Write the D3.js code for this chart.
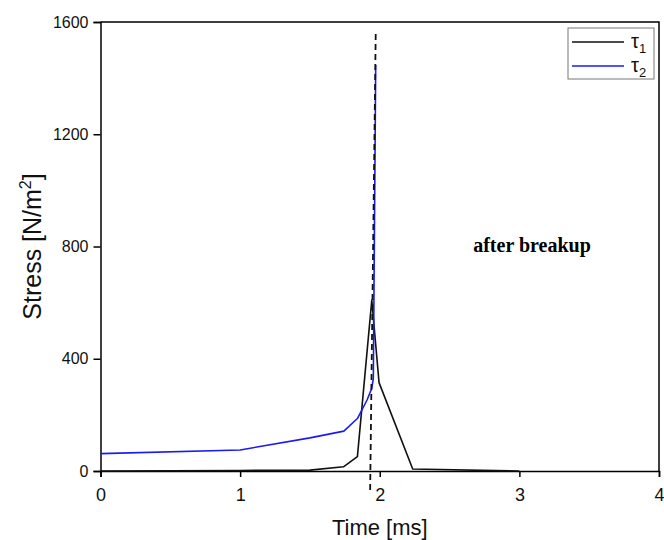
<!DOCTYPE html>
<html>
<head>
<meta charset="utf-8">
<script src="https://cdn.jsdelivr.net/npm/d3@7"></script>
<style>
  body { margin: 0; background: #fff; }
  text { font-family: "Liberation Sans", Arial, sans-serif; }
</style>
</head>
<body>
<div class="chart"></div>
<script>
// data
var time1 = [0, 0.5, 1, 1.5, 1.74, 1.84, 1.943, 1.995, 2.236, 3.0];
var tau1  = [0, 1, 2, 3, 15, 51, 609, 315, 7, 0];

var time2 = [0, 1, 1.5, 1.743, 1.84, 1.909, 1.943, 1.954, 1.971];
var tau2  = [62, 75, 118, 142, 187, 253, 295, 330, 1447];

// breakup marker (dashed)
var breakTime  = [1.971, 1.931];
var breakValue = [1557, -78];

var xTicks = [0, 1, 2, 3, 4];
var yTicks = [0, 400, 800, 1200, 1600];

var margin = { top: 22, right: 5, bottom: 69, left: 100.5 },
    width = 664 - margin.left - margin.right,
    height = 540 - margin.top - margin.bottom;

var x = d3.scaleLinear().domain([0, 4]).range([0, width]);
var y = d3.scaleLinear().domain([0, 1600]).range([height, 0]);

var svg = d3.select(".chart")
    .append("svg")
    .attr("width", 664)
    .attr("height", 540)
    .append("g")
    .attr("transform", "translate(" + margin.left + "," + margin.top + ")");

// frame (top and right)
svg.append("path")
    .attr("d", "M0,0H" + width + "V" + height)
    .attr("fill", "none")
    .attr("stroke", "#000")
    .attr("stroke-width", 1.5);

// axes
var xAxis = svg.append("g")
    .attr("transform", "translate(0," + height + ")")
    .call(d3.axisBottom(x).tickValues(xTicks).tickFormat(d3.format("d")).tickSize(6).tickPadding(11));

var yAxis = svg.append("g")
    .call(d3.axisLeft(y).tickValues(yTicks).tickFormat(d3.format("d")).tickSize(7).tickPadding(5));

[xAxis, yAxis].forEach(function (g) {
    g.select(".domain").attr("stroke-width", 1.5);
    g.selectAll(".tick line").attr("stroke-width", 1.5);
    g.selectAll(".tick text").attr("fill", "#111");
});
xAxis.selectAll(".tick text").style("font-size", "18px");
yAxis.selectAll(".tick text").style("font-size", "16px");

// lines
var line = d3.line()
    .x(function (d) { return x(d[0]); })
    .y(function (d) { return y(d[1]); });

svg.append("path")
    .datum(d3.zip(time1, tau1))
    .attr("fill", "none")
    .attr("stroke", "#111")
    .attr("stroke-width", 1.6)
    .attr("stroke-linejoin", "round")
    .attr("d", line);

svg.append("path")
    .datum(d3.zip(time2, tau2))
    .attr("fill", "none")
    .attr("stroke", "#1a1af5")
    .attr("stroke-width", 1.6)
    .attr("stroke-linejoin", "round")
    .attr("d", line);

svg.append("path")
    .datum(d3.zip(breakTime, breakValue))
    .attr("fill", "none")
    .attr("stroke", "#111")
    .attr("stroke-width", 1.8)
    .attr("stroke-dasharray", "6,4")
    .attr("d", line);

// annotation
svg.append("text")
    .attr("x", 532 - margin.left)
    .attr("y", 252 - margin.top)
    .attr("text-anchor", "middle")
    .style("font-family", "'Liberation Serif', 'Times New Roman', serif")
    .style("font-weight", "bold")
    .style("font-size", "20px")
    .text("after breakup");

// axis titles
svg.append("text")
    .attr("x", x(2))
    .attr("y", height + 64)
    .attr("text-anchor", "middle")
    .style("font-size", "22px")
    .attr("fill", "#111")
    .text("Time [ms]");

var yTitle = svg.append("text")
    .attr("transform", "translate(" + (-margin.left + 41) + "," + y(800) + ")rotate(-90)")
    .attr("text-anchor", "middle")
    .style("font-size", "25px")
    .attr("fill", "#111");
yTitle.append("tspan").text("Stress [N/m");
yTitle.append("tspan").attr("dy", -10).style("font-size", "16px").text("2");
yTitle.append("tspan").attr("dy", 10).text("]");

// legend
var legendNames = ["1", "2"];
var legendColors = ["#111", "#1a1af5"];
var legend = svg.append("g")
    .attr("transform", "translate(" + (568 - margin.left) + "," + (28 - margin.top) + ")");

legend.append("rect")
    .attr("width", 86)
    .attr("height", 51)
    .attr("fill", "#fff")
    .attr("stroke", "#777")
    .attr("stroke-width", 1);

legendNames.forEach(function (n, i) {
    var row = legend.append("g").attr("transform", "translate(0," + (14 + i * 24) + ")");
    row.append("line")
        .attr("x1", 4).attr("x2", 56)
        .attr("stroke", legendColors[i])
        .attr("stroke-width", 1.6);
    var t = row.append("text")
        .attr("x", 63)
        .attr("y", 6)
        .style("font-size", "20px")
        .attr("fill", "#111");
    t.append("tspan").text("τ");
    t.append("tspan").attr("dy", 5).style("font-size", "13px").text(n);
});
</script>
</body>
</html>
